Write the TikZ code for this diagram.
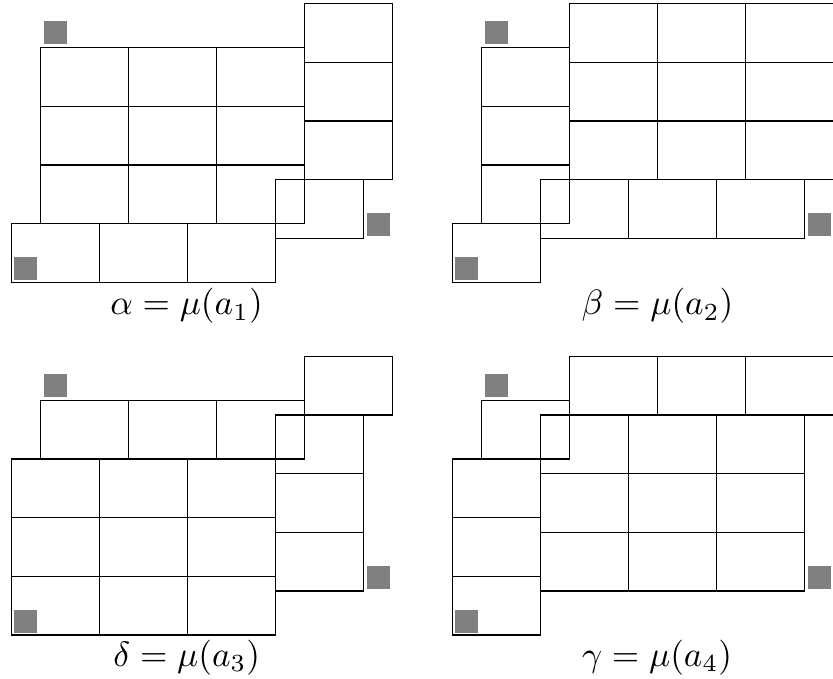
\documentclass[tikz,border=0pt]{standalone}
\usepackage{amsmath}
\definecolor{tilegray}{RGB}{128,128,128}

%% one panel: 4x4 cells, columns from #1 on lifted, rows from #2 on pushed left
\newcommand{\tilepanel}[2]{%
  \foreach \tcol in {0,...,3}{
    \foreach \trow in {0,...,3}{
      \pgfmathsetmacro{\offx}{(\trow>#2-0.5)*29.33}
      \pgfmathsetmacro{\offy}{(\tcol>#1-0.5)*44}
      \draw[cell] ({\tcol*88-\offx},{-\trow*58.67+\offy}) rectangle ++(88,-58.67);
    }
  }
  \fill[marker] (3.3,3.7) rectangle ++(23,23);
  \fill[marker] (-26.7,-232.3) rectangle ++(23,23);
  \fill[marker] (326.3,-188.3) rectangle ++(23,23);
}

\begin{document}
\begin{tikzpicture}[x=0.01cm, y=0.01cm,
    cell/.style={draw=black, line width=0.45pt},
    marker/.style={fill=tilegray}]
    \clip (0,0) rectangle (833,679);

    %% alpha
    \begin{scope}[shift={(40.7,631.3)}]
      \tilepanel{3}{3}
    \end{scope}
    \node[anchor=base] (alpha) at (186.5,364) {$\alpha = \mu(a_1)$};

    %% beta
    \begin{scope}[shift={(481.7,631.3)}]
      \tilepanel{1}{3}
    \end{scope}
    \node[anchor=base] (beta) at (657.5,364) {$\beta = \mu(a_2)$};

    %% delta
    \begin{scope}[shift={(40.7,278.7)}]
      \tilepanel{3}{1}
    \end{scope}
    \node[anchor=base] (delta) at (186.7,12.3) {$\delta = \mu(a_3)$};

    %% gamma
    \begin{scope}[shift={(481.7,278.7)}]
      \tilepanel{1}{1}
    \end{scope}
    \node[anchor=base] (gamma) at (657,12.3) {$\gamma = \mu(a_4)$};

\end{tikzpicture}
\end{document}
